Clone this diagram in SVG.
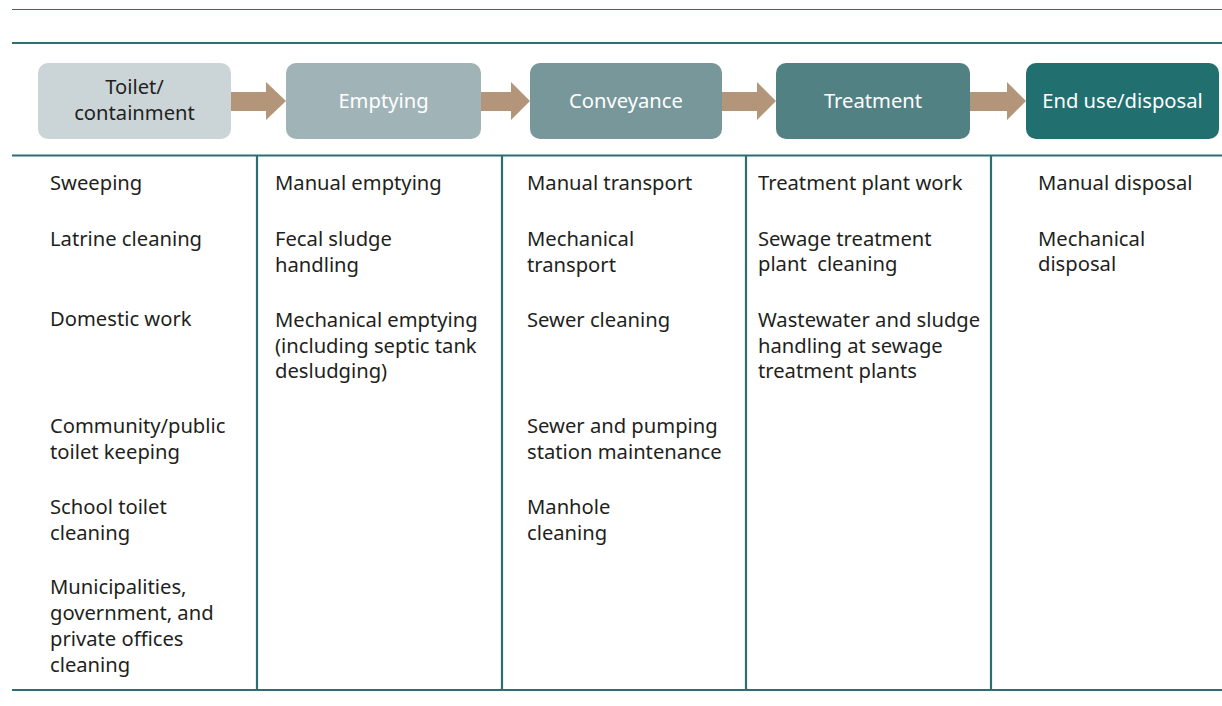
<svg xmlns="http://www.w3.org/2000/svg" width="1222" height="706" viewBox="0 0 1222 706">
<style>
.rule{stroke:#2b6f70;stroke-width:2.2;fill:none}
.thin{stroke:#3f6668;stroke-width:1;fill:none}
.box text{font-family:"Noto Sans","Open Sans",sans-serif;font-size:20.2px;text-anchor:middle}
.item{font-family:"Noto Sans","Open Sans",sans-serif;font-size:20.2px;fill:#231f20}
.arrow{fill:#b3967a}
</style>
<rect width="1222" height="706" fill="#ffffff"/>
<line class="thin" x1="12" y1="9.5" x2="1222" y2="9.5"/>
<g id="rules">
<line class="rule" x1="12" y1="43" x2="1222" y2="43"/>
<line class="rule" x1="12" y1="155.5" x2="1222" y2="155.5"/>
<line class="rule" x1="12" y1="690" x2="1222" y2="690"/>
<line class="rule" x1="257" y1="155" x2="257" y2="690"/>
<line class="rule" x1="502" y1="155" x2="502" y2="690"/>
<line class="rule" x1="746" y1="155" x2="746" y2="690"/>
<line class="rule" x1="991" y1="155" x2="991" y2="690"/>
</g>
<g id="connectors">
<path class="arrow" d="M231,92 H266 V82 L286,101 L266,120 V111 H231 Z"/>
<path class="arrow" d="M481,92 H511 V82 L530,101 L511,120 V111 H481 Z"/>
<path class="arrow" d="M722,92 H757 V82 L776,101 L757,120 V111 H722 Z"/>
<path class="arrow" d="M970,92 H1007 V82 L1026,101 L1007,120 V111 H970 Z"/>
</g>
<g id="node-toilet" class="box">
<rect x="38" y="63" width="193" height="76" rx="10" fill="#cbd5d7"/>
<text x="134.5" y="94" fill="#231f20">Toilet/</text>
<text x="134.5" y="120" fill="#231f20">containment</text>
</g>
<g id="node-emptying" class="box">
<rect x="286" y="63" width="195" height="76" rx="10" fill="#a0b4b8"/>
<text x="383.5" y="107.5" fill="#ffffff">Emptying</text>
</g>
<g id="node-conveyance" class="box">
<rect x="530" y="63" width="192" height="76" rx="10" fill="#78979a"/>
<text x="626" y="107.5" fill="#ffffff">Conveyance</text>
</g>
<g id="node-treatment" class="box">
<rect x="776" y="63" width="194" height="76" rx="10" fill="#528183"/>
<text x="873" y="107.5" fill="#ffffff">Treatment</text>
</g>
<g id="node-enduse" class="box">
<rect x="1026" y="63" width="193" height="76" rx="10" fill="#216f6f"/>
<text x="1122.5" y="107.5" fill="#ffffff">End use/disposal</text>
</g>
<g id="col-toilet">
<text class="item" x="50" y="190">Sweeping</text>
<text class="item" x="50" y="246">Latrine cleaning</text>
<text class="item" x="50" y="326">Domestic work</text>
<text class="item" x="50" y="433">Community/public</text>
<text class="item" x="50" y="459">toilet keeping</text>
<text class="item" x="50" y="514">School toilet</text>
<text class="item" x="50" y="540">cleaning</text>
<text class="item" x="50" y="594">Municipalities,</text>
<text class="item" x="50" y="620">government, and</text>
<text class="item" x="50" y="646">private offices</text>
<text class="item" x="50" y="672">cleaning</text>
</g>
<g id="col-emptying">
<text class="item" x="275" y="190">Manual emptying</text>
<text class="item" x="275" y="246">Fecal sludge</text>
<text class="item" x="275" y="272">handling</text>
<text class="item" x="275" y="327">Mechanical emptying</text>
<text class="item" x="275" y="353">(including septic tank</text>
<text class="item" x="275" y="378">desludging)</text>
</g>
<g id="col-conveyance">
<text class="item" x="527" y="190">Manual transport</text>
<text class="item" x="527" y="246">Mechanical</text>
<text class="item" x="527" y="272">transport</text>
<text class="item" x="527" y="327">Sewer cleaning</text>
<text class="item" x="527" y="433">Sewer and pumping</text>
<text class="item" x="527" y="459">station maintenance</text>
<text class="item" x="527" y="514">Manhole</text>
<text class="item" x="527" y="540">cleaning</text>
</g>
<g id="col-treatment">
<text class="item" x="758" y="190">Treatment plant work</text>
<text class="item" x="758" y="246">Sewage treatment</text>
<text class="item" x="758" y="271" style="white-space:pre">plant  cleaning</text>
<text class="item" x="758" y="327">Wastewater and sludge</text>
<text class="item" x="758" y="353">handling at sewage</text>
<text class="item" x="758" y="378">treatment plants</text>
</g>
<g id="col-enduse">
<text class="item" x="1038" y="190">Manual disposal</text>
<text class="item" x="1038" y="246">Mechanical</text>
<text class="item" x="1038" y="271">disposal</text>
</g>
</svg>
